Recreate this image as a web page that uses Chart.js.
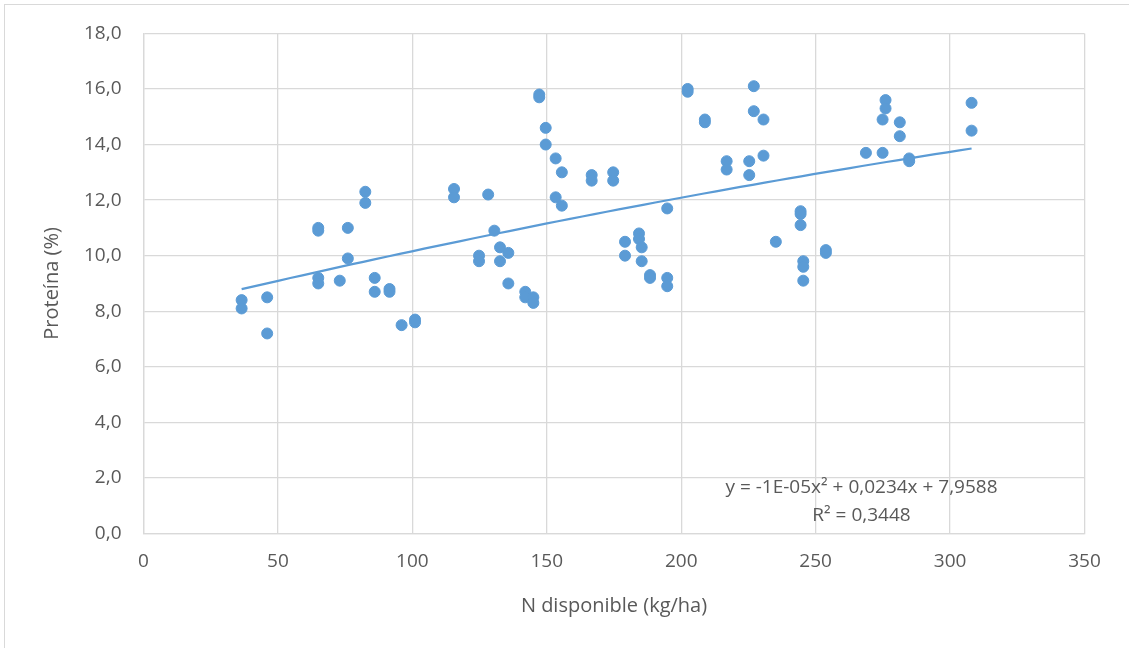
<!DOCTYPE html>
<html>
<head>
<meta charset="utf-8">
<script src="https://cdn.jsdelivr.net/npm/chart.js@4.4.1/dist/chart.umd.min.js"></script>
<style>
	body { margin: 0; background: #fff; }
	#wrap { position: relative; width: 1129px; height: 648px; overflow: hidden; }
	#frame { position: absolute; left: 4px; top: 4px; width: 1140px; height: 660px; border: 1px solid #d9d9d9; box-sizing: border-box; pointer-events: none; }
</style>
</head>
<body>
<div id="wrap"><canvas id="scatter-chart"></canvas><div id="frame"></div></div>
<script>
// N disponible (kg/ha) and protein (%) per sample
const nDisponible = [
	36.5, 36.5, 46, 46, 65, 65, 65, 65, 73, 76, 76, 82.5, 82.5, 86, 86, 91.5, 91.5, 96, 101, 101,
	115.5, 115.5, 124.8, 124.8, 128.2, 130.5, 132.6, 132.6, 135.7, 135.7, 142, 142, 145, 145,
	147.2, 147.2, 149.6, 149.6, 153.3, 153.3, 155.6, 155.6, 166.7, 166.7, 174.7, 174.7,
	179.1, 179.1, 184.3, 184.3, 185.3, 185.3, 188.4, 188.4, 194.8, 194.8, 194.8,
	202.4, 202.4, 208.8, 208.8, 216.9, 216.9, 225.3, 225.3, 227, 227, 230.6, 230.6, 235.2,
	244.4, 244.4, 244.4, 245.4, 245.4, 245.4, 253.8, 253.8, 268.7, 274.9, 274.9, 276, 276,
	281.3, 281.3, 284.8, 284.8, 308, 308
];
const proteina = [
	8.4, 8.1, 8.5, 7.2, 11.0, 10.9, 9.2, 9.0, 9.1, 11.0, 9.9, 12.3, 11.9, 9.2, 8.7, 8.8, 8.7, 7.5, 7.7, 7.6,
	12.4, 12.1, 10.0, 9.8, 12.2, 10.9, 10.3, 9.8, 10.1, 9.0, 8.7, 8.5, 8.5, 8.3,
	15.8, 15.7, 14.6, 14.0, 13.5, 12.1, 13.0, 11.8, 12.9, 12.7, 13.0, 12.7,
	10.5, 10.0, 10.8, 10.6, 10.3, 9.8, 9.3, 9.2, 11.7, 9.2, 8.9,
	16.0, 15.9, 14.9, 14.8, 13.4, 13.1, 13.4, 12.9, 16.1, 15.2, 14.9, 13.6, 10.5,
	11.6, 11.5, 11.1, 9.8, 9.6, 9.1, 10.2, 10.1, 13.7, 13.7, 14.9, 15.6, 15.3,
	14.8, 14.3, 13.5, 13.4, 15.5, 14.5
];
// trendline y = c0 + c1*x + c2*x^2 (c2 shown rounded as -1E-05 in the label)
const trendCoef = [7.9588, 0.0234, -0.0000138];
const equationText = "y = -1E-05x\u00b2 + 0,0234x + 7,9588";
const r2Text = "R\u00b2 = 0,3448";

const blue = "#5B9BD5";
const gray = "#595959";
const gridColor = "#d9d9d9";
const font = { family: "'Open Sans', sans-serif", size: 19 };

const points = nDisponible.map((x, i) => ({ x: x, y: proteina[i] }));

const xMin = Math.min(...nDisponible), xMax = Math.max(...nDisponible);
const trend = [];
for (let i = 0; i <= 60; i++) {
	let x = xMin + (xMax - xMin) * i / 60;
	trend.push({ x: x, y: trendCoef[0] + trendCoef[1] * x + trendCoef[2] * x * x });
}

const equationLabel = {
	id: "equationLabel",
	afterDraw(chart) {
		const ctx = chart.ctx;
		const a = chart.chartArea;
		ctx.save();
		ctx.fillStyle = gray;
		ctx.font = "19px 'Open Sans', sans-serif";
		ctx.textAlign = "center";
		ctx.textBaseline = "middle";
		ctx.fillText(equationText, a.left + 718, a.top + 454);
		ctx.fillText(r2Text, a.left + 718, a.top + 482);
		ctx.restore();
	}
};

const getChartElement = document.querySelector("#scatter-chart");
var chart = new Chart(getChartElement, {
	type: "scatter",
	data: {
		datasets: [
			{
				label: "Proteína",
				data: points,
				backgroundColor: blue,
				borderColor: blue,
				borderWidth: 1,
				pointRadius: 5.5,
				order: 0
			},
			{
				label: "Tendencia",
				type: "line",
				data: trend,
				borderColor: blue,
				borderWidth: 2.25,
				pointRadius: 0,
				fill: false,
				order: 1
			}
		]
	},
	options: {
		responsive: true,
		maintainAspectRatio: false,
		animation: false,
		layout: { padding: { top: 33, right: 44.5, left: 0, bottom: 0 } },
		plugins: { legend: { display: false }, tooltip: { enabled: false } },
		scales: {
			x: {
				type: "linear",
				min: 0,
				max: 350,
				ticks: { stepSize: 50, padding: 17, color: gray, font: font },
				grid: { color: gridColor, drawTicks: false, lineWidth: 1.3 },
				border: { color: gridColor, width: 1.3 },
				title: { display: true, text: "N disponible (kg/ha)", color: gray, font: { family: font.family, size: 20 }, padding: { top: 0, bottom: 30 } },
				afterFit(s) { s.height = 114.5; }
			},
			y: {
				min: 0,
				max: 18,
				ticks: {
					stepSize: 2,
					padding: 22,
					color: gray,
					font: font,
					callback: v => v.toFixed(1).replace(".", ",")
				},
				grid: { color: gridColor, drawTicks: false, lineWidth: 1.3 },
				border: { color: gridColor, width: 1.3 },
				title: { display: true, text: "Proteína (%)", color: gray, font: { family: font.family, size: 20 }, padding: { top: 40, bottom: 0 } },
				afterFit(s) { s.width = 143.5; }
			}
		}
	},
	plugins: [equationLabel]
});
</script>
</body>
</html>
